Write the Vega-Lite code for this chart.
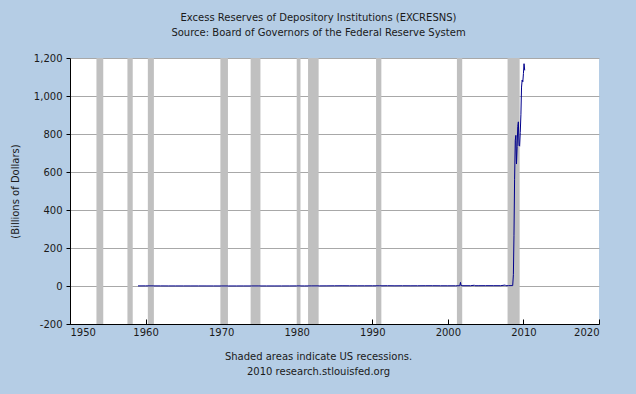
{
  "$schema": "https://vega.github.io/schema/vega-lite/v6.json",
  "width": 529,
  "height": 266,
  "autosize": {"type": "none"},
  "padding": {"left": 70, "top": 58, "right": 37, "bottom": 70},
  "background": "#b5cde5",
  "config": {
    "locale": {"number": {"decimal": ".", "thousands": ",", "grouping": [3], "currency": ["$", ""], "minus": "-"}},
    "view": {"fill": "white", "stroke": null},
    "font": "DejaVu Sans",
    "axis": {"labelFont": "DejaVu Sans", "labelFontSize": 10, "labelColor": "#1a1a1a", "titleFont": "DejaVu Sans", "titleFontSize": 10, "titleFontWeight": "normal", "titleColor": "#1a1a1a", "domainColor": "#000000", "tickColor": "#000000"}
  },
  "title": {
    "text": ["Excess Reserves of Depository Institutions (EXCRESNS)", "Source: Board of Governors of the Federal Reserve System"],
    "anchor": "middle",
    "frame": "group",
    "dx": -16,
    "offset": 15,
    "fontSize": 10,
    "font": "DejaVu Sans",
    "fontWeight": "normal",
    "color": "#1a1a1a",
    "lineHeight": 15
  },
  "datasets": {
    "recessions": [
      {"start": 1953.5, "end": 1954.4},
      {"start": 1957.6, "end": 1958.3},
      {"start": 1960.3, "end": 1961.1},
      {"start": 1969.9, "end": 1970.9},
      {"start": 1973.9, "end": 1975.2},
      {"start": 1980.0, "end": 1980.5},
      {"start": 1981.5, "end": 1982.9},
      {"start": 1990.5, "end": 1991.2},
      {"start": 2001.2, "end": 2001.9},
      {"start": 2007.9, "end": 2009.5}
    ],
    "reserves": [
      {"year": 1959.0, "value": 0.5}, {"year": 1960.0, "value": 0.7}, {"year": 1961.0, "value": 0.6},
      {"year": 1962.0, "value": 0.5}, {"year": 1963.0, "value": 0.4}, {"year": 1964.0, "value": 0.4},
      {"year": 1965.0, "value": 0.4}, {"year": 1966.0, "value": 0.4}, {"year": 1967.0, "value": 0.4},
      {"year": 1968.0, "value": 0.3}, {"year": 1969.0, "value": 0.3}, {"year": 1970.0, "value": 0.2},
      {"year": 1971.0, "value": 0.2}, {"year": 1972.0, "value": 0.2}, {"year": 1973.0, "value": 0.3},
      {"year": 1974.0, "value": 0.3}, {"year": 1975.0, "value": 0.3}, {"year": 1976.0, "value": 0.3},
      {"year": 1977.0, "value": 0.2}, {"year": 1978.0, "value": 0.3}, {"year": 1979.0, "value": 0.4},
      {"year": 1980.0, "value": 0.5}, {"year": 1981.0, "value": 0.4}, {"year": 1982.0, "value": 0.5},
      {"year": 1983.0, "value": 0.6}, {"year": 1984.0, "value": 0.8}, {"year": 1985.0, "value": 1.0},
      {"year": 1986.0, "value": 1.3}, {"year": 1987.0, "value": 1.0}, {"year": 1988.0, "value": 1.0},
      {"year": 1989.0, "value": 1.0}, {"year": 1990.0, "value": 1.1}, {"year": 1991.0, "value": 1.0},
      {"year": 1992.0, "value": 1.4}, {"year": 1993.0, "value": 1.0}, {"year": 1994.0, "value": 1.3},
      {"year": 1995.0, "value": 1.1}, {"year": 1996.0, "value": 1.2}, {"year": 1997.0, "value": 1.4},
      {"year": 1998.0, "value": 1.4}, {"year": 1999.0, "value": 1.2}, {"year": 2000.0, "value": 1.1},
      {"year": 2001.0, "value": 1.2}, {"year": 2001.58, "value": 1.3}, {"year": 2001.67, "value": 19.0},
      {"year": 2001.75, "value": 2.0}, {"year": 2002.0, "value": 1.6}, {"year": 2003.0, "value": 1.5},
      {"year": 2003.5, "value": 4.0}, {"year": 2003.58, "value": 1.6}, {"year": 2004.0, "value": 1.6},
      {"year": 2005.0, "value": 1.8}, {"year": 2006.0, "value": 1.7}, {"year": 2007.0, "value": 1.6},
      {"year": 2007.58, "value": 5.0}, {"year": 2007.67, "value": 1.8}, {"year": 2008.0, "value": 1.8},
      {"year": 2008.5, "value": 2.0}, {"year": 2008.58, "value": 1.9}, {"year": 2008.67, "value": 59.5},
      {"year": 2008.75, "value": 267}, {"year": 2008.83, "value": 559}, {"year": 2008.92, "value": 767},
      {"year": 2009.0, "value": 793}, {"year": 2009.08, "value": 642}, {"year": 2009.17, "value": 734},
      {"year": 2009.25, "value": 840}, {"year": 2009.33, "value": 864}, {"year": 2009.42, "value": 740},
      {"year": 2009.5, "value": 736}, {"year": 2009.58, "value": 808}, {"year": 2009.67, "value": 904},
      {"year": 2009.75, "value": 1047}, {"year": 2009.83, "value": 1084}, {"year": 2009.92, "value": 1075},
      {"year": 2010.0, "value": 1118}, {"year": 2010.08, "value": 1170}, {"year": 2010.17, "value": 1135}
    ]
  },
  "layer": [
    {
      "data": {"name": "recessions"},
      "mark": {"type": "rect", "color": "#c0c0c0"},
      "encoding": {
        "x": {"field": "start", "type": "quantitative", "scale": {"domain": [1950, 2020], "nice": false}},
        "x2": {"field": "end"}
      }
    },
    {
      "data": {"name": "reserves"},
      "mark": {"type": "line", "color": "#00008b", "strokeWidth": 1, "interpolate": "linear"},
      "encoding": {
        "x": {
          "field": "year", "type": "quantitative",
          "scale": {"domain": [1950, 2020], "nice": false, "zero": false},
          "axis": {
            "values": [1950, 1960, 1970, 1980, 1990, 2000, 2010, 2020],
            "format": "d", "grid": false, "tickSize": -5, "labelPadding": 8,
            "title": ["Shaded areas indicate US recessions.", "2010 research.stlouisfed.org"],
            "titleX": 248, "titleY": 27, "titleBaseline": "top", "titleAnchor": "middle", "titleAlign": "center", "titleLineHeight": 15
          }
        },
        "y": {
          "field": "value", "type": "quantitative",
          "scale": {"domain": [-200, 1200], "nice": false, "zero": false},
          "axis": {
            "values": [-200, 0, 200, 400, 600, 800, 1000, 1200],
            "format": ",d", "grid": true, "gridColor": "#a8a8a8", "gridOpacity": 1, "tickSize": 4, "labelPadding": 4,
            "title": "(Billions of Dollars)", "titleX": -55, "titleY": 133, "titleBaseline": "middle", "titleAngle": -90, "titleAlign": "center"
          }
        }
      }
    }
  ]
}
